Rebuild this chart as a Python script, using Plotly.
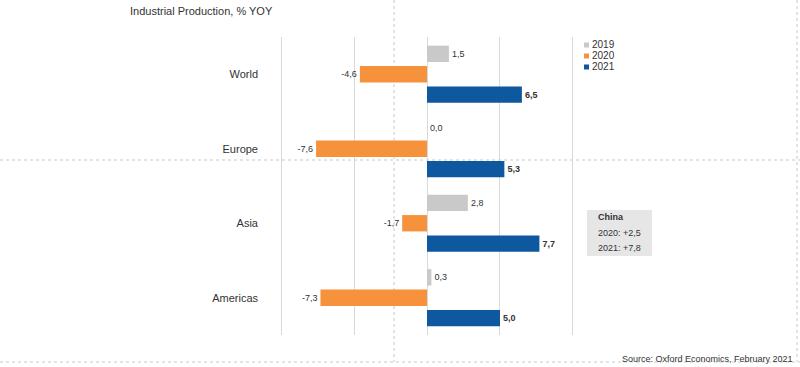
import plotly.graph_objects as go

regions = ["World", "Europe", "Asia", "Americas"]
years = ["2019", "2020", "2021"]
v2019 = [1.5, 0.0, 2.8, 0.3]
v2020 = [-4.6, -7.6, -1.7, -7.3]
v2021 = [6.5, 5.3, 7.7, 5.0]
colors = ["#c9c9c9", "#f7923c", "#0e58a0"]
china_lines = ["China", "2020: +2,5", "2021: +7,8"]
title = "Industrial Production, % YOY"
source = "Source: Oxford Economics, February 2021"

W, H = 800, 367
L, R, T, B = 280, 226, 37, 32
pw, ph = W - L - R, H - T - B

def px(x):
    return (x - L) / pw

def py(y):
    return 1 - (y - T) / ph

def fmt(v):
    return f"{v:.1f}".replace(".", ",")

FONT = "Liberation Sans, Arial, sans-serif"
fig = go.Figure()
for name, vals, col, bold in zip(years, [v2019, v2020, v2021], colors, [False, False, True]):
    txt = [("<b>%s</b>" % fmt(v)) if bold else fmt(v) for v in vals]
    fig.add_trace(go.Bar(
        y=regions, x=vals, name=name, orientation="h",
        marker=dict(color=col, line=dict(width=0)),
        text=txt, textposition="outside", constraintext="none",
        textfont=dict(size=9, color="#333333", family=FONT),
        cliponaxis=False, hoverinfo="skip", showlegend=False,
    ))

fig.update_layout(
    width=W, height=H,
    margin=dict(l=L, r=R, t=T, b=B, pad=0),
    paper_bgcolor="white", plot_bgcolor="white",
    barmode="group", bargap=0.177, bargroupgap=0.2,
    font=dict(family=FONT, color="#333333", size=11),
    showlegend=False,
    xaxis=dict(range=[-10.07, 10.07], dtick=5, tick0=0, showticklabels=False,
               showgrid=True, gridcolor="#d9d9d9", gridwidth=1, zeroline=False,
               showline=False, ticks=""),
    yaxis=dict(autorange="reversed", showgrid=False, zeroline=False, showline=False,
               ticks="", ticklabelstandoff=21, tickfont=dict(size=11, color="#333333")),
)

shapes = []
dot = dict(color="#c8c8c8", width=1, dash="dot")
shapes.append(dict(type="line", xref="paper", yref="paper", x0=px(394), x1=px(394), y0=py(0), y1=py(362), line=dot, layer="below"))
shapes.append(dict(type="line", xref="paper", yref="paper", x0=px(0), x1=px(800), y0=py(160), y1=py(160), line=dot, layer="below"))
shapes.append(dict(type="line", xref="paper", yref="paper", x0=px(797), x1=px(797), y0=py(0), y1=py(362), line=dot, layer="below"))
shapes.append(dict(type="line", xref="paper", yref="paper", x0=px(0), x1=px(800), y0=py(362), y1=py(362), line=dot, layer="below"))
shapes.append(dict(type="rect", xref="paper", yref="paper", x0=px(587), x1=px(652), y0=py(256), y1=py(210),
                   fillcolor="#e6e6e6", line=dict(width=0), layer="above"))

anns = [
    dict(text=title, x=px(128), y=py(11), xanchor="left", yanchor="middle",
         font=dict(size=11, color="#333333")),
    dict(text=source, x=px(795), y=py(359), xanchor="right", yanchor="middle",
         font=dict(size=9, color="#333333")),
]
# legend
for i, (name, col) in enumerate(zip(years, colors)):
    yc = 45 + i * 11
    shapes.append(dict(type="rect", xref="paper", yref="paper", x0=px(584), x1=px(589),
                       y0=py(yc + 2.5), y1=py(yc - 2.5), fillcolor=col, line=dict(width=0)))
    anns.append(dict(text=name, x=px(590), y=py(yc), xanchor="left", yanchor="middle",
                     font=dict(size=10, color="#333333")))
for i, (t, yy) in enumerate(zip(china_lines, [217, 233, 248])):
    anns.append(dict(text=("<b>%s</b>" % t) if i == 0 else t, x=px(596), y=py(yy),
                     xanchor="left", yanchor="middle", font=dict(size=9, color="#333333")))
for a in anns:
    a.update(xref="paper", yref="paper", showarrow=False)
fig.update_layout(shapes=shapes, annotations=anns)

fig.write_html("out.html", config={"displayModeBar": False},
               post_script="document.body.style.margin='0';document.body.style.padding='0';")
